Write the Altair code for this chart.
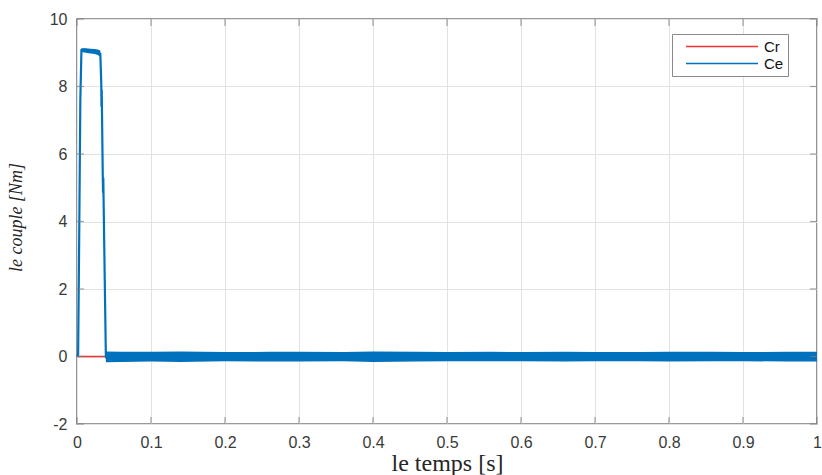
import altair as alt
import pandas as pd

# Cr : load torque, zero over the whole run
t_cr = [0.0, 1.0]
cr = [0.0, 0.0]

# Ce : electromagnetic torque, start-up transient
t_ce = [0.0, 0.0015, 0.003, 0.0045, 0.006, 0.010, 0.015, 0.020, 0.025, 0.029,
        0.0315, 0.0328, 0.0331, 0.0334, 0.0348, 0.0352, 0.0355, 0.0390, 0.0394]
ce = [0.0, 0.05, 3.6, 7.6, 9.08, 9.09, 9.07, 9.06, 9.04, 9.01,
      8.97, 8.1, 7.4, 7.9, 5.4, 4.85, 5.3, 0.0, -0.05]

# Ce ripple envelope on the plateau
t_plateau = [0.006, 0.012, 0.018, 0.024, 0.028, 0.0315]
plateau_hi = [9.13, 9.13, 9.12, 9.11, 9.10, 9.07]
plateau_lo = [9.02, 9.00, 8.98, 8.96, 8.93, 8.88]

# Ce ripple envelope in steady state
t_ss = [0.039, 0.06, 0.10, 0.14, 0.20, 0.26, 0.30, 0.36, 0.40, 0.46, 0.50,
        0.56, 0.60, 0.66, 0.70, 0.76, 0.80, 0.86, 0.90, 0.96, 1.0]
ss_hi = [0.15, 0.14, 0.14, 0.15, 0.13, 0.14, 0.14, 0.13, 0.15, 0.14, 0.13,
         0.14, 0.13, 0.14, 0.13, 0.13, 0.14, 0.14, 0.13, 0.14, 0.14]
ss_lo = [-0.17, -0.16, -0.15, -0.16, -0.14, -0.15, -0.15, -0.14, -0.16, -0.15, -0.14,
         -0.14, -0.14, -0.15, -0.14, -0.14, -0.15, -0.14, -0.14, -0.15, -0.15]

# axis ticks
x_ticks = [0, 0.1, 0.2, 0.3, 0.4, 0.5, 0.6, 0.7, 0.8, 0.9, 1]
y_ticks = [-2, 0, 2, 4, 6, 8, 10]

RED = "#f23030"
BLUE = "#0072BD"
FRAME = "#7a7a7a"

df_cr = pd.DataFrame({"t": t_cr, "v": cr, "serie": "Cr"})
df_ce = pd.DataFrame({"t": t_ce, "v": ce, "serie": "Ce"})
df_band = pd.concat([
    pd.DataFrame({"t": t_plateau, "hi": plateau_hi, "lo": plateau_lo, "seg": "plateau"}),
    pd.DataFrame({"t": t_ss, "hi": ss_hi, "lo": ss_lo, "seg": "steady"}),
])

xs = alt.Scale(domain=[0, 1], nice=False, zero=False)
ys = alt.Scale(domain=[-2, 10], nice=False, zero=False)

x_axis = alt.Axis(values=x_ticks, labelExpr="datum.value + ''", tickSize=0,
                  labelPadding=10, labelFlush=False, labelOverlap=False,
                  title="le temps [s]", titleFont="Liberation Serif", titleFontSize=24,
                  titleFontWeight="normal", titleColor="#262626",
                  titleY=46, titleBaseline="alphabetic")
y_axis = alt.Axis(values=y_ticks, labelExpr="datum.value + ''", tickSize=0,
                  labelPadding=10, labelOverlap=False,
                  title="le couple [Nm]", titleFont="Liberation Serif", titleFontSize=18,
                  titleFontStyle="italic", titleFontWeight="normal", titleColor="#262626",
                  titleAngle=-90, titleX=-56, titleY=198, titleAlign="center",
                  titleBaseline="alphabetic")

color = alt.Color(
    "serie:N",
    scale=alt.Scale(domain=["Cr", "Ce"], range=[RED, BLUE]),
    legend=alt.Legend(
        title=None, orient="none", legendX=595, legendY=15,
        symbolType="stroke", symbolSize=5184, symbolStrokeWidth=1.6,
        clipHeight=17, rowPadding=0, padding=4, symbolOffset=9, labelOffset=5,
        labelFont="Liberation Sans", labelFontSize=15, labelColor="#111111",
        strokeColor="#8a8a8a", fillColor="white",
    ),
)

cr_line = alt.Chart(df_cr).mark_line(strokeWidth=1.6).encode(
    x=alt.X("t:Q", scale=xs, axis=x_axis),
    y=alt.Y("v:Q", scale=ys, axis=y_axis),
    color=color,
)

ce_band = alt.Chart(df_band).mark_area(color=BLUE, opacity=1).encode(
    x="t:Q", y="hi:Q", y2="lo:Q", detail="seg:N",
)

ce_line = alt.Chart(df_ce).mark_line(strokeWidth=2.2).encode(
    x="t:Q", y="v:Q", color=color,
)

# inward-pointing ticks on the four sides of the box
df_xt = pd.DataFrame({"t": x_ticks, "bot": -2, "top": 10})
df_yt = pd.DataFrame({"v": y_ticks, "left": 0, "right": 1})
tick_style = dict(color=FRAME, thickness=1.2, size=7)
ticks_bottom = alt.Chart(df_xt).mark_tick(orient="vertical", yOffset=-3.5, **tick_style).encode(x="t:Q", y="bot:Q")
ticks_top = alt.Chart(df_xt).mark_tick(orient="vertical", yOffset=3.5, **tick_style).encode(x="t:Q", y="top:Q")
ticks_left = alt.Chart(df_yt).mark_tick(orient="horizontal", xOffset=3.5, **tick_style).encode(x="left:Q", y="v:Q")
ticks_right = alt.Chart(df_yt).mark_tick(orient="horizontal", xOffset=-3.5, **tick_style).encode(x="right:Q", y="v:Q")

chart = alt.layer(
    cr_line, ce_band, ce_line, ticks_bottom, ticks_top, ticks_left, ticks_right
).properties(
    width=740, height=405,
    autosize=alt.AutoSizeParams(type="none"),
    padding={"left": 77, "top": 19, "right": 5, "bottom": 51},
    background="white",
).configure_axis(
    grid=True, gridColor="#e2e2e2", gridWidth=1,
    domain=False,
    labelFont="Liberation Sans", labelFontSize=16, labelColor="#3a3a3a",
).configure_view(
    stroke=FRAME, strokeWidth=1.6,
)

chart.save("out.html", embed_options={"renderer": "svg", "actions": False})
